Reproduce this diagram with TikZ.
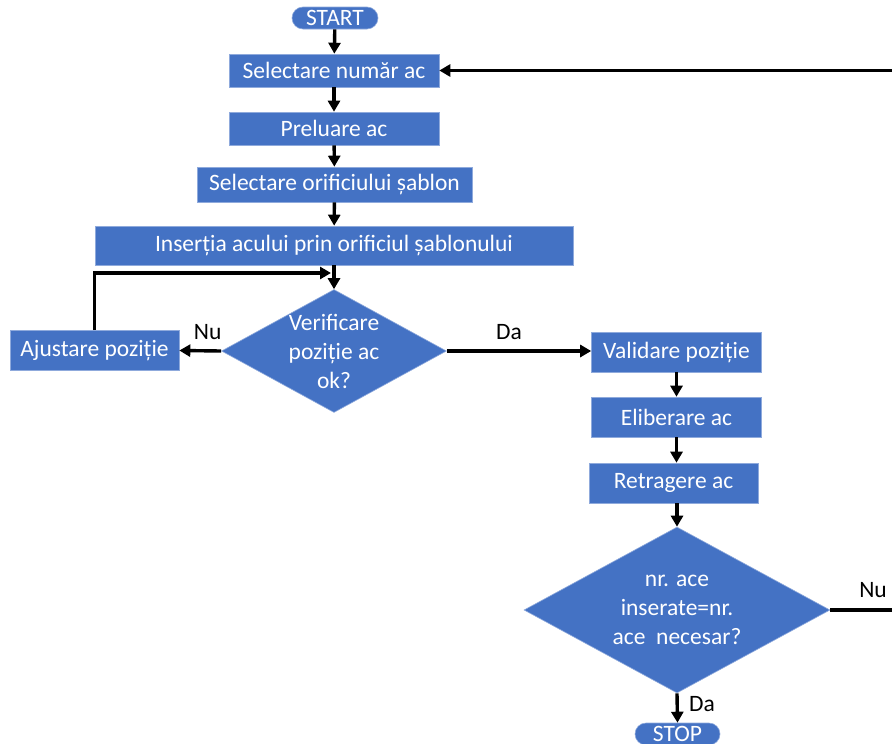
\documentclass[tikz,border=0pt]{standalone}
\usepackage{fontspec}
\setmainfont{Carlito}
\usetikzlibrary{arrows.meta,shapes.geometric,calc}
\definecolor{flowblue}{HTML}{4472C4}
\definecolor{flowedge}{HTML}{8FAADC}
\begin{document}
\begin{tikzpicture}[x=1pt,y=-1pt,
  font=\fontsize{23.5}{29}\selectfont,
  stepbox/.style={rectangle,fill=flowblue,draw=flowedge,line width=0.6pt,
    text=white,inner sep=0pt,align=center},
  termbox/.style={rectangle,rounded corners=11pt,fill=flowblue,draw=flowedge,
    line width=0.6pt,text=white,inner sep=0pt,minimum width=86,minimum height=22},
  decide/.style={diamond,fill=flowblue,draw=flowedge,line width=0.6pt,inner sep=0pt},
  decidetext/.style={text=white,align=center,font=\fontsize{23.5}{29}\selectfont},
  arr/.style={line width=3.4pt,-{Triangle[length=11pt,width=12pt]}},
  answer/.style={text=black,inner sep=0pt}]
\useasboundingbox (0,0) rectangle (892,744);

% terminals and process steps
\node[termbox] (start) at (335,18) {START};
\node[stepbox,minimum width=210,minimum height=33] (b1) at (334,70.5) {Selectare număr ac};
\node[stepbox,minimum width=210,minimum height=33] (b2) at (334,128.5) {Preluare ac};
\node[stepbox,minimum width=275,minimum height=35] (b3) at (334.5,184.5) {Selectare orificiului șablon};
\node[stepbox,minimum width=478,minimum height=39] (b4) at (334,245.5) {Inserția acului prin orificiul șablonului};

\node[decide,minimum width=225,minimum height=123,
  label={[decidetext]center:{Verificare\\poziție ac\\ok?}}] (d1) at (334,351) {};
\node[stepbox,minimum width=169,minimum height=40] (aj) at (94.5,350.5) {Ajustare poziție};

\node[stepbox,minimum width=170,minimum height=40] (val) at (676.5,352) {Validare poziție};
\node[stepbox,minimum width=170,minimum height=40] (elib) at (676.5,417) {Eliberare ac};
\node[stepbox,minimum width=169,minimum height=40] (retr) at (673.5,483) {Retragere ac};

\node[decide,minimum width=306,minimum height=166,
  label={[decidetext]center:{nr. ace\\inserate=nr.\\ace\ \ necesar?}}] (d2) at (677,610) {};
\node[termbox,minimum width=85] (stop) at (677.5,734) {STOP};

% connectors
\draw[arr] (start) -- (b1);
\draw[arr] (b1) -- (b2);
\draw[arr] (b2) -- (b3);
\draw[arr] (b3) -- (b4);
\draw[arr] (b4.south) -- (d1.north);
\draw[arr] (d1.west) -- (aj.east);
\coordinate (back) at (331,273);
\draw[arr] (aj.north) |- (back);
\draw[arr] (d1.east) -- (val.west |- d1.east);
\draw[arr] (val) -- (elib);
\draw[arr] (elib.south) -- (elib.south |- retr.north);
\draw[arr] (d2.north |- retr.south) -- (d2.north);
\draw[arr] (d2.south) -- (stop.north);
\coordinate (loopup) at (905,70.5);
\draw[arr] (d2.east) -| (loopup) -- (b1.east);

% branch answers
\node[answer] at (207.7,332) {Nu};
\node[answer] at (509,332) {Da};
\node[answer] at (873,590) {Nu};
\node[answer] at (702,704) {Da};
\end{tikzpicture}
\end{document}
